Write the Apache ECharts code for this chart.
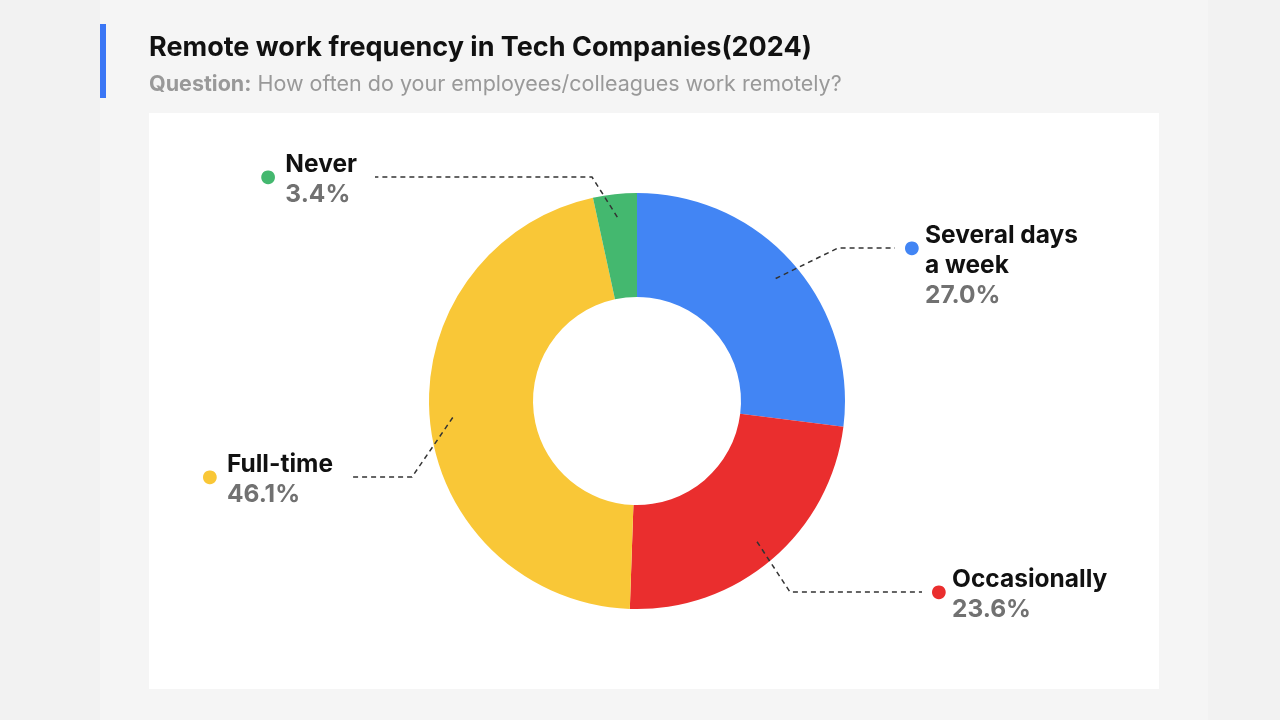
<!DOCTYPE html>
<html>
<head>
<meta charset="utf-8">
<script src="https://cdn.jsdelivr.net/npm/echarts@6/dist/echarts.min.js"></script>
<style>
  html, body { margin: 0; padding: 0; background: #f2f2f2; }
  #main { width: 1280px; height: 720px; }
</style>
</head>
<body>
<div id="main"></div>
<script>
var categories = ['Several days\na week', 'Occasionally', 'Full-time', 'Never'];
var shares = [27.0, 23.6, 46.1, 3.4];

var sliceColors = ['#4285f4', '#ea2e2e', '#f9c737', '#44b86f'];
// where each label sits (line end), in pixels
var labelSpots = [
  { x: 895, y: 248, align: 'left' },
  { x: 922, y: 592, align: 'left' },
  { x: 351, y: 477, align: 'right' },
  { x: 375, y: 177, align: 'right' }
];
var bendLengths = [57, 132, 61, 217];

var FONT = 'Inter';

var myChart = echarts.init(document.getElementById('main'));

var rich = {
  name: { fontFamily: FONT, fontSize: 24.5, fontWeight: 'bold', color: '#111', lineHeight: 30, align: 'left' },
  val: { fontFamily: FONT, fontSize: 24.5, fontWeight: 'bold', color: '#717171', lineHeight: 30, align: 'left' }
};
sliceColors.forEach(function (c, i) {
  var w = labelSpots[i].align === 'left' ? 21 : 25;
  rich['dot' + i] = {
    fontFamily: 'DejaVu Sans', fontSize: 18, color: c, width: w,
    lineHeight: 10, padding: [24, 0, 0, 0], verticalAlign: 'middle', align: 'left'
  };
  rich['sp' + i] = { width: w, fontSize: 10, lineHeight: 10, align: 'left' };
});

var labelData = categories.map(function (name, i) {
  var lines = name.split('\n');
  var isRight = labelSpots[i].align === 'left';
  return {
    name: name,
    value: shares[i],
    label: {
      padding: [lines.length > 1 ? 36 : 6, isRight ? 0 : 18, 0, isRight ? 9 : 0]
    },
    labelLine: { length2: bendLengths[i] }
  };
});

option = {
  backgroundColor: '#f2f2f2',
  title: {
    text: 'Remote work frequency in Tech Companies(2024)',
    subtext: '{b|Question:} How often do your employees/colleagues work remotely?',
    left: 144,
    top: 29,
    itemGap: 13,
    textStyle: { fontFamily: FONT, fontSize: 27, fontWeight: 'bold', color: '#111' },
    subtextStyle: {
      fontFamily: FONT, fontSize: 21.5, color: '#999',
      rich: { b: { fontFamily: FONT, fontSize: 21.5, fontWeight: 'bold', color: '#999' } }
    }
  },
  graphic: {
    elements: [
      { type: 'rect', z: -10, shape: { x: 100, y: 0, width: 1108, height: 720 }, style: { fill: '#f5f5f5' } },
      { type: 'rect', z: -9, shape: { x: 149, y: 113, width: 1010, height: 576 }, style: { fill: '#ffffff' } },
      { type: 'rect', z: -8, shape: { x: 100, y: 24, width: 6, height: 74 }, style: { fill: '#3a76f5' } }
    ]
  },
  series: [{
    type: 'pie',
    center: [637, 401],
    radius: [104, 208],
    startAngle: 90,
    clockwise: true,
    silent: true,
    z: 2,
    label: { show: false },
    labelLine: { show: false },
    data: categories.map(function (name, i) {
      return { name: name, value: shares[i], itemStyle: { color: sliceColors[i] } };
    })
  }, {
    type: 'pie',
    center: [637, 401],
    radius: [0, 185],
    startAngle: 90,
    clockwise: true,
    silent: true,
    z: 3,
    itemStyle: { color: 'rgba(0,0,0,0)', opacity: 1 },
    label: {
      show: true,
      position: 'outside',
      backgroundColor: 'rgba(255,255,255,0)',
      formatter: function (p) {
        var i = p.dataIndex;
        var lines = p.name.split('\n');
        var s = '{dot' + i + '|●}{name|' + lines[0] + '}';
        for (var k = 1; k < lines.length; k++) {
          s += '\n{sp' + i + '|}{name|' + lines[k] + '}';
        }
        s += '\n{sp' + i + '|}{val|' + p.value.toFixed(1) + '%}';
        return s;
      },
      rich: rich
    },
    labelLine: {
      show: true,
      length: 10,
      lineStyle: { color: '#333', width: 1.5, type: [5, 4], opacity: 1 }
    },
    labelLayout: function (params) {
      var spot = labelSpots[params.dataIndex];
      return { x: spot.x, y: spot.y, align: spot.align, verticalAlign: 'middle' };
    },
    data: labelData
  }]
};

myChart.setOption(option);
</script>
</body>
</html>
